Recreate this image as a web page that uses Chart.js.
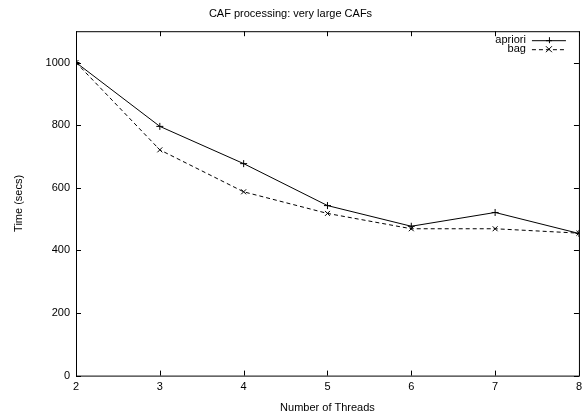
<!DOCTYPE html>
<html>
<head>
<meta charset="utf-8">
<script src="https://cdn.jsdelivr.net/npm/chart.js@4/dist/chart.umd.min.js"></script>
<style>
  html, body { margin: 0; padding: 0; background: #fff; }
  #wrap { width: 587px; height: 417px; }
</style>
</head>
<body>
<div id="wrap"><canvas id="cafChart" width="587" height="417"></canvas></div>
<script>
// data
const threads = [2, 3, 4, 5, 6, 7, 8];
const aprioriTimes = [1000, 796, 677, 543, 477, 521, 454];
const bagTimes = [1000, 721, 587, 518, 469, 469, 455];
const yTicks = [0, 200, 400, 600, 800, 1000];

const FONT = 'Liberation Sans, Arial, sans-serif';

// gnuplot style frame: box round the plot + ticks pointing inwards on all sides
const framePlugin = {
  id: 'frame',
  afterDatasetsDraw(chart) {
    const ctx = chart.ctx;
    const a = chart.chartArea;
    const xs = chart.scales.x;
    const ys = chart.scales.y;
    ctx.save();
    ctx.strokeStyle = '#000';
    ctx.lineWidth = 1;
    ctx.strokeRect(a.left + 0.5, a.top + 0.5, a.right - a.left, a.bottom - a.top);
    ctx.beginPath();
    threads.forEach(t => {
      const px = Math.round(xs.getPixelForValue(t)) + 0.5;
      ctx.moveTo(px, a.bottom); ctx.lineTo(px, a.bottom - 5);
      ctx.moveTo(px, a.top); ctx.lineTo(px, a.top + 5);
    });
    yTicks.forEach(v => {
      const py = Math.round(ys.getPixelForValue(v)) + 0.5;
      ctx.moveTo(a.left, py); ctx.lineTo(a.left + 5, py);
      ctx.moveTo(a.right, py); ctx.lineTo(a.right - 5, py);
    });
    ctx.stroke();
    ctx.restore();
  }
};

// legend in the top right corner, text right aligned then a line sample
const legendPlugin = {
  id: 'innerLegend',
  afterDatasetsDraw(chart) {
    const ctx = chart.ctx;
    const a = chart.chartArea;
    ctx.save();
    ctx.font = '11px ' + FONT;
    ctx.textAlign = 'right';
    ctx.textBaseline = 'middle';
    chart.data.datasets.forEach((ds, i) => {
      const y = a.top + 9 + i * 9;
      const x1 = a.right - 47;
      const x2 = a.right - 13;
      ctx.fillStyle = '#000';
      ctx.fillText(ds.label, x1 - 6, y);
      ctx.strokeStyle = ds.borderColor;
      ctx.lineWidth = 1;
      ctx.setLineDash(ds.borderDash || []);
      ctx.beginPath();
      ctx.moveTo(x1, y + 0.5); ctx.lineTo(x2, y + 0.5);
      ctx.stroke();
      ctx.setLineDash([]);
      const mx = (x1 + x2) / 2;
      const r = 3;
      ctx.beginPath();
      if (ds.pointStyle === 'cross') {
        ctx.moveTo(mx - r, y + 0.5); ctx.lineTo(mx + r, y + 0.5);
        ctx.moveTo(mx + 0.5, y - r); ctx.lineTo(mx + 0.5, y + r);
      } else {
        ctx.moveTo(mx - r, y - r); ctx.lineTo(mx + r, y + r);
        ctx.moveTo(mx - r, y + r); ctx.lineTo(mx + r, y - r);
      }
      ctx.stroke();
    });
    ctx.restore();
  }
};

new Chart(document.getElementById('cafChart'), {
  type: 'line',
  data: {
    labels: threads,
    datasets: [
      {
        label: 'apriori',
        data: threads.map((t, i) => ({ x: t, y: aprioriTimes[i] })),
        borderColor: '#000',
        borderWidth: 1,
        pointStyle: 'cross',
        pointRadius: 3.5,
        pointBorderColor: '#000',
        pointBorderWidth: 1,
        fill: false,
        tension: 0
      },
      {
        label: 'bag',
        data: threads.map((t, i) => ({ x: t, y: bagTimes[i] })),
        borderColor: '#000',
        borderWidth: 1,
        borderDash: [4, 3],
        pointStyle: 'crossRot',
        pointRadius: 3.5,
        pointBorderColor: '#000',
        pointBorderWidth: 1,
        fill: false,
        tension: 0
      }
    ]
  },
  options: {
    responsive: false,
    animation: false,
    layout: { padding: { top: 0, right: 6, left: 0, bottom: 0 } },
    plugins: {
      legend: { display: false },
      tooltip: { enabled: false },
      title: {
        display: true,
        text: 'CAF processing: very large CAFs',
        color: '#000',
        font: { family: FONT, size: 11, weight: 'normal' },
        padding: { top: 7, bottom: 11 }
      }
    },
    scales: {
      x: {
        type: 'linear',
        min: 2,
        max: 8,
        afterBuildTicks(scale) { scale.ticks = threads.map(v => ({ value: v })); },
        grid: { display: false, drawTicks: false },
        border: { display: false },
        ticks: { color: '#000', font: { family: FONT, size: 11 }, padding: 5, callback: v => String(v) },
        title: {
          display: true,
          text: 'Number of Threads',
          color: '#000',
          font: { family: FONT, size: 11 },
          padding: { top: 3, bottom: 2 }
        }
      },
      y: {
        min: 0,
        max: 1100,
        afterBuildTicks(scale) { scale.ticks = yTicks.map(v => ({ value: v })); },
        afterFit(scale) { scale.width = 76; },
        grid: { display: false, drawTicks: false },
        border: { display: false },
        ticks: { color: '#000', font: { family: FONT, size: 11 }, padding: 6, callback: v => String(v) },
        title: {
          display: true,
          text: 'Time (secs)',
          color: '#000',
          font: { family: FONT, size: 11 },
          padding: { top: 12, bottom: 0 }
        }
      }
    }
  },
  plugins: [framePlugin, legendPlugin]
});
</script>
</body>
</html>
